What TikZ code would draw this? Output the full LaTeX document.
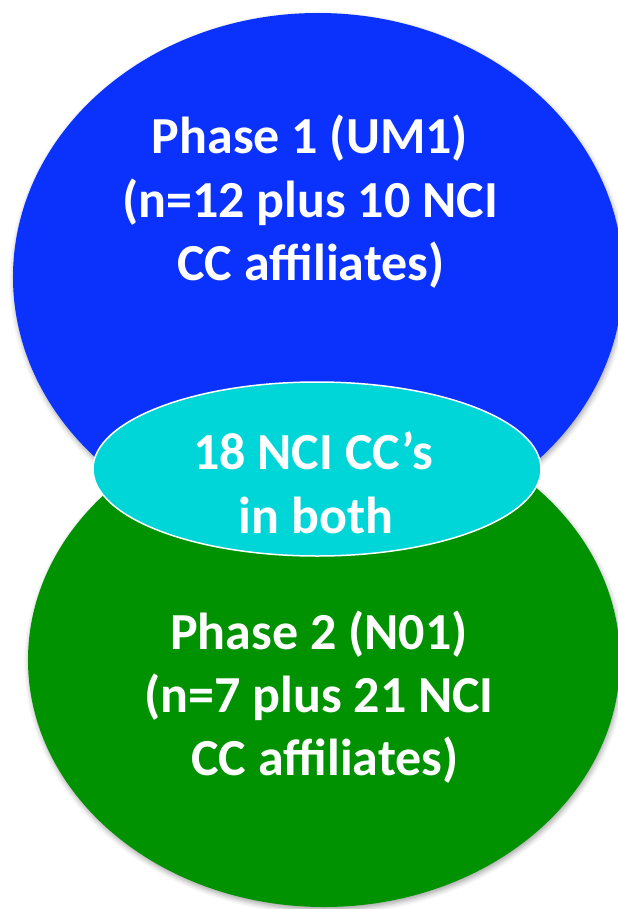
\documentclass[tikz,border=0pt]{standalone}
\usepackage{fontspec}
\setmainfont{Carlito}
\usetikzlibrary{shapes.geometric,shadows.blur}
\definecolor{phaseblue}{RGB}{10,50,252}
\definecolor{phasegreen}{RGB}{0,146,0}
\definecolor{bothcyan}{RGB}{0,213,216}
\begin{document}
\begin{tikzpicture}[x=1bp,y=-1bp,
  venn/.style={ellipse, inner sep=0pt, blur shadow={shadow xshift=1bp, shadow yshift=-3bp, shadow blur radius=5bp, shadow opacity=35}},
  txt/.style={text=white, font=\fontsize{52bp}{63.5bp}\selectfont\bfseries, inner sep=0pt, anchor=base}]
\useasboundingbox (0,0) rectangle (618,909);
\node[venn, fill=phaseblue, minimum width=610bp, minimum height=528bp] (blue) at (318,277) {};
\node[venn, fill=phasegreen, minimum width=592bp, minimum height=494bp] (green) at (324,660) {};
\node[ellipse, fill=bothcyan, draw=white, line width=1.5bp, minimum width=448bp, minimum height=174bp, inner sep=0pt] (both) at (317,469) {};
% Phase 1 text
\node[txt] (p1a) at (310,153) {Phase 1 (UM1)};
\node[txt] (p1b) at (310,217) {(n=12 plus 10 NCI};
\node[txt] (p1c) at (311,280) {CC affiliates)};
% overlap text
\node[txt] (ba) at (313,469) {18 NCI CC’s};
\node[txt] (bb) at (316,533) {in both};
% Phase 2 text
\node[txt] (p2a) at (319,649) {Phase 2 (N01)};
\node[txt] (p2b) at (319,712) {(n=7 plus 21 NCI};
\node[txt] (p2c) at (325,775) {CC affiliates)};
\end{tikzpicture}
\end{document}
